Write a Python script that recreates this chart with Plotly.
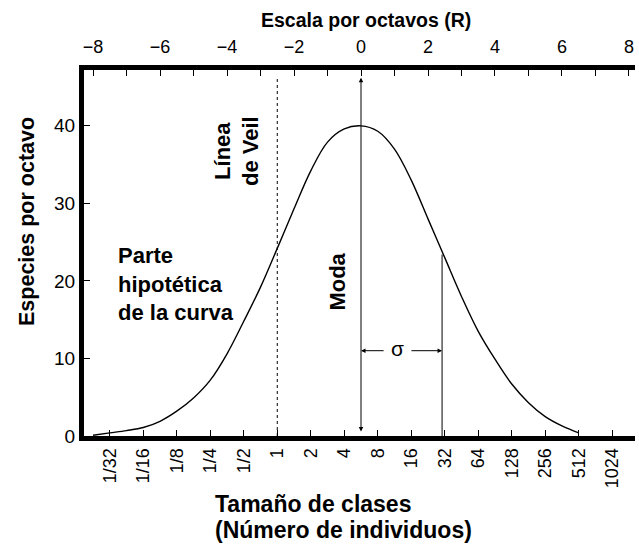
import plotly.graph_objects as go

# Curve: octave (R) vs species per octave
octave_R = [-8.0, -7.5, -7.0, -6.5, -6.0, -5.5, -5.0, -4.5, -4.0, -3.5, -3.0, -2.5,
            -2.0, -1.5, -1.0, -0.5, 0.0, 0.5, 1.0, 1.5, 2.0, 2.5, 3.0, 3.5, 4.0,
            4.5, 5.0, 5.5, 6.0, 6.5]
species = [0.1, 0.4, 0.7, 1.1, 1.9, 3.2, 4.9, 7.2, 10.6, 14.8, 19.2, 24.2,
           29.3, 34.2, 37.9, 39.6, 40.0, 39.3, 37.0, 33.0, 28.0, 23.0, 18.0, 13.5, 9.9,
           6.7, 4.3, 2.5, 1.3, 0.4]

# Bottom axis: size classes (log2 of number of individuals)
class_labels = ["1/32", "1/16", "1/8", "1/4", "1/2", "1", "2", "4", "8", "16",
                "32", "64", "128", "256", "512", "1024"]
class_log2 = [-5, -4, -3, -2, -1, 0, 1, 2, 3, 4, 5, 6, 7, 8, 9, 10]
mode_log2 = 2.5          # mode lies between 4 and 8 individuals

# Top axis: octave scale
octave_ticks = [-8, -6, -4, -2, 0, 2, 4, 6, 8]
octave_labels = ["−8", "−6", "−4", "−2", "0", "2", "4", "6", "8"]

# Reference markers
veil_R = -2.5
sigma_R = 2.42
sigma_y = 23.4
sigma_arrow_y = 11.0

y_ticks = [0, 10, 20, 30, 40]

XR = [-8.27, 8.18]
YR = [0, 47.2]
FONT = "Liberation Sans, Arial, sans-serif"

# plot area in pixels (for paper-positioned titles)
L, R_, T, B = 84, 635, 70, 436
W, H = R_ - L, B - T


def px(x):
    return (x - L) / W


def py(y):
    return (B - y) / H


fig = go.Figure()
fig.add_trace(go.Scatter(x=octave_R, y=species, mode="lines",
                         line=dict(color="black", width=1.4, shape="spline"),
                         hoverinfo="skip", showlegend=False))
# invisible trace to activate top axis
fig.add_trace(go.Scatter(x=[octave_ticks[0]], y=[0], xaxis="x2", mode="markers",
                         marker=dict(opacity=0), showlegend=False, hoverinfo="skip"))

bottom_pos = [k - mode_log2 for k in class_log2]

fig.update_layout(
    width=639, height=550,
    margin=dict(l=L, r=639 - R_, t=T, b=550 - B),
    paper_bgcolor="white", plot_bgcolor="white",
    font=dict(family=FONT, size=18, color="black"),
    xaxis=dict(range=XR, tickvals=bottom_pos, ticktext=class_labels,
               tickangle=-90, ticks="inside", ticklen=6, tickwidth=1.2,
               tickcolor="black", showline=True, linewidth=5, linecolor="black",
               showgrid=False, zeroline=False, tickfont=dict(size=18),
               automargin=False),
    xaxis2=dict(range=XR, overlaying="x", side="top", anchor="y",
                tickvals=octave_ticks, ticktext=octave_labels,
                ticks="inside", ticklen=6, tickwidth=1.2, tickcolor="black",
                minor=dict(dtick=1, tick0=0, ticks="inside", ticklen=6,
                           tickwidth=1.2, tickcolor="black"),
                showline=True, linewidth=5, linecolor="black",
                showgrid=False, zeroline=False, tickfont=dict(size=18),
                ticklabelstandoff=5, automargin=False),
    yaxis=dict(range=YR, tickvals=y_ticks, ticks="inside", ticklen=6,
               tickwidth=1.2, tickcolor="black", showline=True, linewidth=5,
               linecolor="black", showgrid=False, zeroline=False,
               tickfont=dict(size=19), automargin=False),
)

# Veil line (dashed) and sigma line
fig.add_shape(type="line", x0=veil_R, x1=veil_R, y0=0, y1=YR[1] - 0.8,
              line=dict(color="black", width=1, dash="3px,3px"))
fig.add_shape(type="line", x0=sigma_R, x1=sigma_R, y0=0, y1=sigma_y,
              line=dict(color="black", width=1))

# Mode line with arrows on both ends
fig.add_annotation(x=0, y=YR[1] - 1.0, ax=0, ay=0.4, xref="x", yref="y",
                   axref="x", ayref="y", showarrow=True, arrowhead=2,
                   arrowside="end+start", arrowsize=0.9, arrowwidth=1,
                   arrowcolor="black", text="")

# sigma arrows
fig.add_annotation(x=0, y=sigma_arrow_y, ax=0.72, ay=sigma_arrow_y, xref="x", yref="y",
                   axref="x", ayref="y", showarrow=True, arrowhead=2, arrowsize=0.9,
                   arrowwidth=1, arrowcolor="black", text="")
fig.add_annotation(x=sigma_R, y=sigma_arrow_y, ax=1.46, ay=sigma_arrow_y, xref="x",
                   yref="y", axref="x", ayref="y", showarrow=True, arrowhead=2,
                   arrowsize=0.9, arrowwidth=1, arrowcolor="black", text="")
fig.add_annotation(x=1.08, y=sigma_arrow_y + 0.3, text="σ", showarrow=False,
                   xanchor="center", yanchor="middle",
                   font=dict(size=21, family=FONT))

# Text labels
fig.add_annotation(x=-7.3, y=19.6, text="<b>Parte<br>hipotética<br>de la curva</b>",
                   showarrow=False, xanchor="left", yanchor="middle", align="left",
                   font=dict(size=22, family=FONT))
fig.add_annotation(x=-3.72, y=36.8, text="<b>Línea<br>de Veil</b>", showarrow=False,
                   textangle=-90, xanchor="center", yanchor="middle",
                   font=dict(size=22, family=FONT))
fig.add_annotation(x=-0.69, y=19.9, text="<b>Moda</b>", showarrow=False,
                   textangle=-90, xanchor="center", yanchor="middle",
                   font=dict(size=22, family=FONT))

# Axis titles
fig.add_annotation(xref="paper", yref="paper", x=px(27), y=py(222),
                   text="<b>Especies por octavo</b>", textangle=-90, showarrow=False,
                   xanchor="center", yanchor="middle",
                   font=dict(size=21.5, family=FONT))
fig.add_annotation(xref="paper", yref="paper", x=px(366), y=py(20),
                   text="<b>Escala por octavos (R)</b>", showarrow=False,
                   xanchor="center", yanchor="middle",
                   font=dict(size=19.5, family=FONT))
fig.add_annotation(xref="paper", yref="paper", x=px(213), y=py(504),
                   text="<b>Tamaño de clases</b>", showarrow=False,
                   xanchor="left", yanchor="middle",
                   font=dict(size=23, family=FONT))
fig.add_annotation(xref="paper", yref="paper", x=px(213), y=py(530),
                   text="<b>(Número de individuos)</b>", showarrow=False,
                   xanchor="left", yanchor="middle",
                   font=dict(size=23, family=FONT))

fig.write_html("out.html",
               config={"displayModeBar": False},
               post_script="document.body.style.margin='0';"
                           "document.body.style.overflow='hidden';")
